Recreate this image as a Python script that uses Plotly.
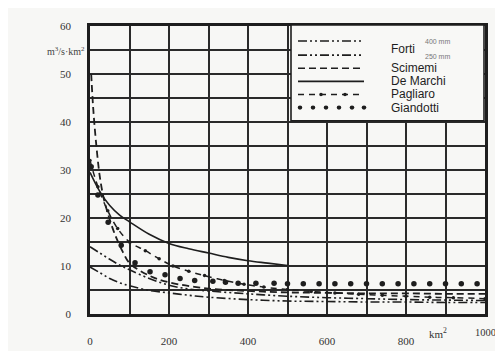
import plotly.graph_objects as go

# ---- data ----
forti400_x = [0, 25, 50, 75, 100, 150, 200, 250, 300, 400, 500, 600, 700, 800, 900, 1000]
forti400_y = [14.0, 12.7, 11.4, 10.2, 9.2, 7.4, 6.0, 5.2, 4.8, 4.2, 3.7, 3.4, 3.2, 3.0, 2.9, 2.8]

forti250_x = [0, 25, 50, 75, 100, 150, 200, 250, 300, 400, 500, 600, 700, 800, 900, 1000]
forti250_y = [9.8, 8.6, 7.4, 6.5, 5.9, 4.9, 4.4, 3.9, 3.5, 3.0, 2.7, 2.6, 2.5, 2.5, 2.4, 2.4]

scimemi_x = [3, 8, 15, 25, 35, 45, 63, 84, 100, 150, 200, 300, 400, 500, 600, 700, 800, 900, 1000]
scimemi_y = [50.0, 43.0, 36.0, 28.5, 24.0, 21.0, 16.6, 12.8, 10.6, 8.0, 6.6, 5.3, 4.8, 4.5, 4.4, 4.3, 4.3, 4.2, 4.2]

demarchi_x = [0, 25, 50, 75, 100, 150, 200, 250, 300, 350, 400, 450, 500]
demarchi_y = [29.5, 25.5, 22.6, 20.6, 19.2, 16.6, 14.7, 13.6, 12.7, 11.8, 11.1, 10.6, 10.1]

pagliaro_x = [0, 20, 45, 70, 100, 140, 175, 210, 250, 290, 340, 390, 440, 500, 560, 620, 680, 740, 800, 860, 920, 1000]
pagliaro_y = [32.0, 26.5, 21.5, 17.8, 15.0, 13.2, 11.5, 10.0, 8.9, 8.0, 7.0, 6.2, 5.6, 5.1, 4.7, 4.4, 4.1, 3.9, 3.7, 3.5, 3.4, 3.2]

giandotti_x = [3, 20, 46, 79, 114, 152, 190, 228, 265, 311, 343, 375, 420, 466, 500, 540, 580, 620, 660, 700, 740, 780, 820, 860, 900, 940, 980]
giandotti_y = [30.7, 24.8, 19.1, 14.3, 10.7, 8.8, 8.2, 7.4, 7.0, 6.8, 6.6, 6.4, 6.4, 6.4, 6.3, 6.3, 6.3, 6.3, 6.3, 6.3, 6.3, 6.3, 6.3, 6.3, 6.3, 6.3, 6.3]

x_ticks = [0, 200, 400, 600, 800]
y_ticks = [0, 10, 20, 30, 40, 50, 60]
legend_names = ["Forti", "Scimemi", "De Marchi", "Pagliaro", "Giandotti"]
forti_sub = ["400 mm", "250 mm"]

INK = "#1e1e1e"
FORTI_DASH = "9px,3px,2px,3px,2px,3px"
SCIM_DASH = "7px,4px"
PAG_DASH = "6px,5px"

fig = go.Figure()
fig.add_trace(go.Scatter(x=forti400_x, y=forti400_y, mode="lines", line=dict(color=INK, width=1.6, dash=FORTI_DASH, shape="spline")))
fig.add_trace(go.Scatter(x=forti250_x, y=forti250_y, mode="lines", line=dict(color=INK, width=1.6, dash=FORTI_DASH, shape="spline")))
fig.add_trace(go.Scatter(x=scimemi_x, y=scimemi_y, mode="lines", line=dict(color=INK, width=1.8, dash=SCIM_DASH, shape="spline")))
fig.add_trace(go.Scatter(x=demarchi_x, y=demarchi_y, mode="lines", line=dict(color=INK, width=1.6, shape="spline")))
fig.add_trace(go.Scatter(x=pagliaro_x, y=pagliaro_y, mode="lines+markers", line=dict(color=INK, width=1.5, dash=PAG_DASH, shape="spline"),
                         marker=dict(size=3.5, color=INK)))
fig.add_trace(go.Scatter(x=giandotti_x, y=giandotti_y, mode="markers", marker=dict(size=5.5, color=INK)))

# ---- geometry helpers (pixel -> paper) ----
W, H = 503, 351
L, R, T, B = 82, 26, 18, 26
pw, ph = W - L - R, H - T - B
def px(xp):
    return (xp - L) / pw
def py(yp):
    return (H - B - yp) / ph

shapes = []
ann = []
# legend box
shapes.append(dict(type="rect", xref="paper", yref="paper", x0=px(283), x1=px(476), y0=py(119), y1=py(17),
                   fillcolor="#f8f8f6", line=dict(color=INK, width=1.6), layer="above"))
rows = [34, 49, 63, 77, 91, 105]
dashes = [FORTI_DASH, FORTI_DASH, SCIM_DASH, "solid", PAG_DASH]
for i in range(5):
    shapes.append(dict(type="line", xref="paper", yref="paper", x0=px(290), x1=px(356), y0=py(rows[i]), y1=py(rows[i]),
                       line=dict(color=INK, width=1.6, dash=dashes[i]), layer="above"))
for cx in [313, 337]:
    shapes.append(dict(type="circle", xref="paper", yref="paper", x0=px(cx - 1.8), x1=px(cx + 1.8), y0=py(rows[4] + 1.8), y1=py(rows[4] - 1.8),
                       fillcolor=INK, line=dict(width=0), layer="above"))
for cx in [292, 305, 318, 331, 344, 356]:
    shapes.append(dict(type="circle", xref="paper", yref="paper", x0=px(cx - 2.3), x1=px(cx + 2.3), y0=py(rows[5] + 2.3), y1=py(rows[5] - 2.3),
                       fillcolor=INK, line=dict(width=0), layer="above"))

font = dict(family="Liberation Sans, Arial, sans-serif", size=12, color=INK)
ann.append(dict(xref="paper", yref="paper", x=px(381), y=py(42), text=legend_names[0], showarrow=False, xanchor="left", yanchor="middle", font=font))
ann.append(dict(xref="paper", yref="paper", x=px(415), y=py(34), text=forti_sub[0], showarrow=False, xanchor="left", yanchor="middle",
                font=dict(family="Liberation Sans, Arial", size=7, color="#777")))
ann.append(dict(xref="paper", yref="paper", x=px(415), y=py(50), text=forti_sub[1], showarrow=False, xanchor="left", yanchor="middle",
                font=dict(family="Liberation Sans, Arial", size=7, color="#777")))
for i, name in enumerate(legend_names[1:]):
    ann.append(dict(xref="paper", yref="paper", x=px(381), y=py(rows[i + 2]), text=name, showarrow=False, xanchor="left", yanchor="middle", font=font))

tickfont = dict(family="Liberation Serif, Times New Roman, serif", size=11, color="#333")
ann.append(dict(xref="paper", yref="paper", x=px(430), y=py(345), text="km<sup>2</sup>", showarrow=False, xanchor="center", yanchor="middle", font=tickfont))
ann.append(dict(xref="paper", yref="paper", x=px(490), y=py(345), text="1000", showarrow=False, xanchor="right", yanchor="middle",
                font=dict(family="Liberation Serif, Times New Roman, serif", size=10.5, color="#333")))
ann.append(dict(xref="paper", yref="paper", x=px(58), y=py(45), text="m<sup>3</sup>/s\u00b7km<sup>2</sup>", showarrow=False, xanchor="center", yanchor="middle",
                font=dict(family="Liberation Serif, Times New Roman, serif", size=10, color="#444")))

fig.update_layout(
    width=W, height=H,
    margin=dict(l=L, r=R, t=T, b=B),
    paper_bgcolor="#f7f7f5", plot_bgcolor="#f7f7f5",
    showlegend=False,
    shapes=shapes, annotations=ann,
    xaxis=dict(range=[0, 1000], tickvals=x_ticks, ticktext=[str(v) for v in x_ticks], tickfont=tickfont,
               showgrid=True, gridcolor="#2a2a2a", gridwidth=1.5,
               minor=dict(dtick=100, showgrid=True, gridcolor="#2a2a2a", gridwidth=1.5),
               zeroline=False, showline=True, linecolor=INK, linewidth=2.5, mirror=True, ticks="", ticklabelstandoff=15),
    yaxis=dict(range=[0, 60], tickvals=y_ticks, tickfont=tickfont,
               showgrid=True, gridcolor="#2a2a2a", gridwidth=1.5,
               minor=dict(dtick=5, showgrid=True, gridcolor="#2a2a2a", gridwidth=1.5),
               zeroline=False, showline=True, linecolor=INK, linewidth=2.5, mirror=True, ticks="", ticklabelstandoff=14),
)

fig.write_html("out.html")
